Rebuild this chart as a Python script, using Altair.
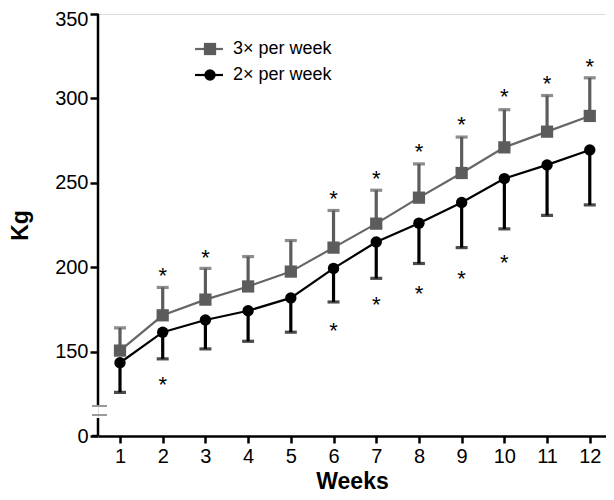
import altair as alt
import pandas as pd

weeks = [1, 2, 3, 4, 5, 6, 7, 8, 9, 10, 11, 12]
three_mean = [150.6, 171.5, 180.8, 188.6, 197.4, 211.6, 225.8, 241.2, 255.8, 271.0, 280.3, 289.6]
three_upper = [164.0, 188.0, 199.3, 206.3, 215.8, 233.6, 245.6, 261.2, 277.1, 293.3, 301.7, 312.2]
two_mean = [143.4, 161.5, 168.7, 174.2, 181.8, 199.3, 214.9, 226.1, 238.3, 252.5, 260.6, 269.4]
two_lower = [125.9, 145.7, 151.6, 156.1, 161.5, 179.4, 193.4, 202.2, 211.6, 222.7, 230.7, 236.9]

star_up_weeks = [2, 3, 6, 7, 8, 9, 10, 11, 12]
star_up_vals = [198.0, 208.6, 243.3, 255.4, 271.0, 287.0, 303.7, 311.4, 321.6]
star_dn_weeks = [2, 6, 7, 8, 9, 10]
star_dn_vals = [133.0, 165.4, 180.4, 186.8, 195.9, 205.7]

y_ticks = [100, 150, 200, 250, 300, 350]
legend_labels = ["3\u00d7 per week", "2\u00d7 per week"]

GRAY = "#5c5c5c"
LINEGRAY = "#666666"
BLACK = "#000000"
FONT = "Liberation Sans"

df3 = pd.DataFrame({"week": weeks, "mean": three_mean, "err": three_upper})
df2 = pd.DataFrame({"week": weeks, "mean": two_mean, "err": two_lower})
dsu = pd.DataFrame({"week": star_up_weeks, "v": star_up_vals})
dsd = pd.DataFrame({"week": star_dn_weeks, "v": star_dn_vals})

xs = alt.Scale(domain=[0.485, 12.38], nice=False, zero=False)
ys = alt.Scale(domain=[100, 350], nice=False, zero=False)

x_axis = alt.Axis(values=weeks, title="Weeks", labelFontSize=20, titleFontSize=23,
                  titleFontWeight="bold", tickSize=7, tickWidth=2.5, domainWidth=2.5,
                  labelPadding=3, titlePadding=4, grid=False, labelFont=FONT,
                  titleFont=FONT, domainColor=BLACK, tickColor=BLACK, labelColor=BLACK,
                  titleColor=BLACK)
y_axis = alt.Axis(values=y_ticks, title="Kg", labelFontSize=20, titleFontSize=23,
                  titleFontWeight="bold", tickSize=8, tickWidth=2.5, domain=False,
                  labelPadding=2, titlePadding=22, grid=False, labelFont=FONT,
                  titleFont=FONT, tickColor=BLACK, labelColor=BLACK, titleColor=BLACK,
                  labelOffset={"condition": {"test": "datum.value == 350", "value": 5}, "value": 0},
                  labelExpr="datum.value == 100 ? '0' : datum.label")

X = alt.X("week:Q", scale=xs, axis=x_axis)
Y = alt.Y("mean:Q", scale=ys, axis=y_axis)


def series(df, color, lcolor, shape, size):
    rule = alt.Chart(df).mark_rule(color=color, strokeWidth=3.2).encode(
        x=alt.X("week:Q", scale=xs), y=alt.Y("mean:Q", scale=ys), y2="err:Q")
    cap = alt.Chart(df).mark_tick(color=color, orient="horizontal", size=12, thickness=3.2).encode(
        x=alt.X("week:Q", scale=xs), y=alt.Y("err:Q", scale=ys))
    line = alt.Chart(df).mark_line(color=lcolor, strokeWidth=2.2).encode(x=X, y=Y)
    pts = alt.Chart(df).mark_point(shape=shape, filled=True, opacity=1, color=color, size=size).encode(
        x=alt.X("week:Q", scale=xs), y=alt.Y("mean:Q", scale=ys))
    return [rule, cap, line, pts]


layers = series(df3, GRAY, LINEGRAY, "square", 150) + series(df2, BLACK, BLACK, "circle", 130)

stars = [
    alt.Chart(d).mark_text(text="*", fontSize=22, font=FONT, color=BLACK,
                           baseline="alphabetic", dy=12).encode(
        x=alt.X("week:Q", scale=xs), y=alt.Y("v:Q", scale=ys))
    for d in (dsu, dsd)
]

# y axis with break
axis_parts = [
    alt.Chart().mark_rule(color=BLACK, strokeWidth=2.5).encode(
        x=alt.value(0), y=alt.value(0), y2=alt.value(392)),
    alt.Chart().mark_rule(color=BLACK, strokeWidth=2.5).encode(
        x=alt.value(0), y=alt.value(404), y2=alt.value(422)),
    alt.Chart().mark_rule(color="#9a9a9a", strokeWidth=2).encode(
        x=alt.value(-6), x2=alt.value(9), y=alt.value(392)),
    alt.Chart().mark_rule(color="#9a9a9a", strokeWidth=2).encode(
        x=alt.value(-6), x2=alt.value(9), y=alt.value(401)),
    alt.Chart().mark_rule(color=BLACK, strokeWidth=2.5).encode(
        x=alt.value(-6), x2=alt.value(0), y=alt.value(422)),
]

# manual legend
legend = []
for i, (lab, col, lcol, shp, sz) in enumerate(zip(legend_labels, [GRAY, BLACK], [LINEGRAY, BLACK],
                                                  ["square", "circle"], [150, 130])):
    yy = 35 + 26 * i
    legend.append(alt.Chart().mark_rule(color=lcol, strokeWidth=2.2).encode(
        x=alt.value(97), x2=alt.value(125), y=alt.value(yy)))
    legend.append(alt.Chart().mark_point(shape=shp, filled=True, opacity=1, color=col, size=sz).encode(
        x=alt.value(112), y=alt.value(yy)))
    legend.append(alt.Chart().mark_text(text=lab, fontSize=18, font=FONT, color=BLACK,
                                        align="left", baseline="middle").encode(
        x=alt.value(135), y=alt.value(yy)))

chart = alt.layer(*layers, *stars, *axis_parts, *legend).properties(
    width=508, height=422,
    autosize=alt.AutoSizeParams(type="none"),
    padding={"left": 90, "top": 6, "right": 0, "bottom": 56},
).configure_view(stroke=None).configure(background="white")

chart.save("out.html", embed_options={"renderer": "svg", "actions": False})
